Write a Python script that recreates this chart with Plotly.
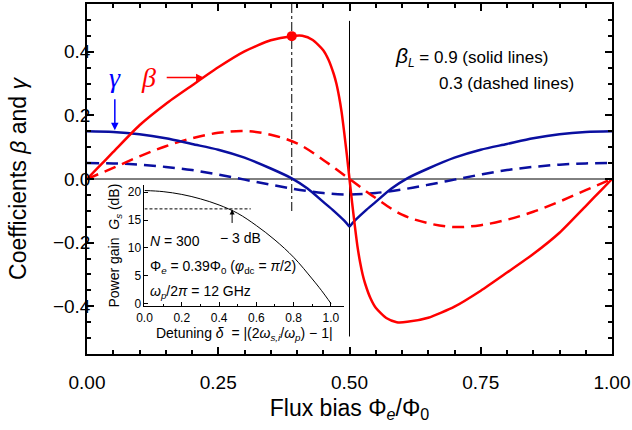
import plotly.graph_objects as go

# ---------------- data ----------------
flux_beta_solid = [0.00, 0.02, 0.05, 0.10, 0.15, 0.20, 0.25, 0.30, 0.35, 0.39, 0.41, 0.43,
                   0.45, 0.46, 0.47, 0.475, 0.48, 0.485, 0.49, 0.495, 0.50,
                   0.505, 0.51, 0.515, 0.52, 0.525, 0.53, 0.54, 0.55, 0.57, 0.59, 0.61,
                   0.65, 0.70, 0.75, 0.80, 0.85, 0.90, 0.95, 0.98, 1.00]
beta_solid = [0.000, 0.034, 0.085, 0.169, 0.236, 0.294, 0.351, 0.401, 0.436, 0.449, 0.450, 0.437,
              0.405, 0.375, 0.330, 0.300, 0.260, 0.210, 0.145, 0.075, 0.000,
              -0.075, -0.145, -0.210, -0.260, -0.300, -0.330, -0.375, -0.405, -0.437, -0.450, -0.449,
              -0.436, -0.401, -0.351, -0.294, -0.236, -0.169, -0.085, -0.034, 0.000]

flux_gamma_solid = [0.00, 0.05, 0.10, 0.15, 0.20, 0.25, 0.30, 0.35, 0.39, 0.42, 0.45, 0.47, 0.49, 0.50,
                    0.51, 0.53, 0.55, 0.58, 0.61, 0.65, 0.70, 0.75, 0.80, 0.85, 0.90, 0.95, 1.00]
gamma_solid = [0.150, 0.148, 0.141, 0.128, 0.110, 0.092, 0.067, 0.033, 0.002, -0.030, -0.072, -0.100, -0.131, -0.150,
               -0.131, -0.100, -0.072, -0.030, 0.002, 0.033, 0.067, 0.092, 0.110, 0.128, 0.141, 0.148, 0.150]

flux_dashed = [0.00, 0.05, 0.10, 0.15, 0.20, 0.25, 0.30, 0.35, 0.40, 0.45, 0.50,
               0.55, 0.60, 0.65, 0.70, 0.75, 0.80, 0.85, 0.90, 0.95, 1.00]
beta_dashed = [0.000, 0.035, 0.071, 0.103, 0.128, 0.145, 0.151, 0.139, 0.112, 0.060, 0.000,
               -0.060, -0.112, -0.139, -0.151, -0.145, -0.128, -0.103, -0.071, -0.035, 0.000]
gamma_dashed = [0.050, 0.049, 0.045, 0.038, 0.028, 0.014, -0.002, -0.018, -0.033, -0.044, -0.049,
                -0.044, -0.033, -0.018, -0.002, 0.014, 0.028, 0.038, 0.045, 0.049, 0.050]

peak_flux = [0.39]
peak_beta = [0.449]

# inset: power gain vs detuning
detuning = [0.0, 0.1, 0.2, 0.3, 0.4, 0.5, 0.6, 0.7, 0.8, 0.9, 0.95, 1.0]
gain_db = [20.3, 20.1, 19.6, 18.8, 17.7, 16.2, 14.0, 11.4, 8.3, 4.4, 2.3, 0.0]
minus3db_detuning = [0.0, 0.57]
minus3db_gain = [17.0, 17.0]

RED = "#FF0000"
NAVY = "#0A0FA0"
BLUE = "#0000FF"
FONT = "Liberation Sans, Arial, sans-serif"

fig = go.Figure()

# reference lines
fig.add_trace(go.Scatter(x=[0, 1], y=[0, 0], mode="lines",
                         line=dict(color="black", width=1), hoverinfo="skip"))
fig.add_trace(go.Scatter(x=[0.5, 0.5], y=[-0.495, 0.497], mode="lines",
                         line=dict(color="black", width=1), hoverinfo="skip"))
fig.add_trace(go.Scatter(x=[0.39, 0.39], y=[0.55, -0.108], mode="lines",
                         line=dict(color="black", width=1, dash="dashdot"), hoverinfo="skip"))

# curves
fig.add_trace(go.Scatter(x=flux_dashed, y=gamma_dashed, mode="lines", line_shape="spline",
                         line=dict(color=NAVY, width=2.5, dash="12px,7px")))
fig.add_trace(go.Scatter(x=flux_dashed, y=beta_dashed, mode="lines", line_shape="spline",
                         line=dict(color=RED, width=2.5, dash="12px,7px")))
# gamma (solid) has a cusp at 0.5: draw each side as a smooth branch
cusp = flux_gamma_solid.index(0.50)
for sl in (slice(0, cusp + 1), slice(cusp, None)):
    fig.add_trace(go.Scatter(x=flux_gamma_solid[sl], y=gamma_solid[sl], mode="lines",
                             line_shape="spline", line=dict(color=NAVY, width=2.5, smoothing=0.8)))
fig.add_trace(go.Scatter(x=flux_beta_solid, y=beta_solid, mode="lines", line_shape="spline",
                         line=dict(color=RED, width=2.5, smoothing=0.6)))
fig.add_trace(go.Scatter(x=peak_flux, y=peak_beta, mode="markers",
                         marker=dict(color=RED, size=10)))

# inset traces
fig.add_trace(go.Scatter(x=detuning, y=gain_db, mode="lines", line_shape="spline",
                         line=dict(color="black", width=1), xaxis="x2", yaxis="y2"))
fig.add_trace(go.Scatter(x=minus3db_detuning, y=minus3db_gain, mode="lines",
                         line=dict(color="black", width=1, dash="3px,2px"), xaxis="x2", yaxis="y2"))

axis_common = dict(showline=True, linecolor="black", linewidth=1.5, mirror="ticks",
                   ticks="inside", tickcolor="black", tickwidth=1.5, ticklen=7,
                   showgrid=False, zeroline=False,
                   tickfont=dict(family=FONT, size=19, color="black"))

fig.update_layout(
    width=632, height=430,
    margin=dict(l=87, r=20, t=2, b=76),
    plot_bgcolor="rgba(0,0,0,0)", paper_bgcolor="white",
    showlegend=False,
    font=dict(family=FONT, color="black"),
    xaxis=dict(range=[0, 1], dtick=0.25, tick0=0, tickformat=".2f",
               ticklabelstandoff=10,
               minor=dict(dtick=0.05, ticks="inside", ticklen=4, tickwidth=1.5, tickcolor="black"),
               title=dict(text="Flux bias Φ<sub><i>e</i></sub>/Φ<sub>0</sub>",
                          font=dict(family=FONT, size=23), standoff=8),
               **axis_common),
    yaxis=dict(range=[-0.55, 0.55], dtick=0.2, tick0=0, tickformat=".1f",
               ticklabelstandoff=-9,
               minor=dict(dtick=0.05, ticks="inside", ticklen=4, tickwidth=1.5, tickcolor="black"),
               title=dict(text="Coefficients <i>β</i> and <i>γ</i>",
                          font=dict(family=FONT, size=23), standoff=20),
               **axis_common),
    xaxis2=dict(domain=[0.1095, 0.4895], anchor="y2", range=[0, 1.07],
                dtick=0.2, tick0=0, tickformat=".1f",
                showline=True, linecolor="black", linewidth=1, ticks="inside", ticklen=4,
                tickwidth=1, tickcolor="black", showgrid=False, zeroline=False,
                minor=dict(dtick=0.1, ticks="inside", ticklen=2.5, tickwidth=1, tickcolor="black"),
                tickfont=dict(family=FONT, size=12),
                title=dict(text="Detuning <i>δ</i>  = |(2<i>ω</i><sub><i>s,i</i></sub>/<i>ω</i><sub><i>p</i></sub>) − 1|",
                           font=dict(family=FONT, size=14), standoff=3)),
    yaxis2=dict(domain=[0.1364, 0.483], anchor="x2", range=[-0.5, 21.3],
                dtick=5, tick0=0, showline=True, linecolor="black", linewidth=1,
                ticks="inside", ticklen=4, tickwidth=1, tickcolor="black",
                showgrid=False, zeroline=False,
                tickfont=dict(family=FONT, size=12),
                title=dict(text="Power gain  <i>G</i><sub><i>s</i></sub> (dB)",
                           font=dict(family=FONT, size=14), standoff=4)),
)

ann = []
# beta_L legend text
ann.append(dict(x=0.583, y=0.384, xref="x", yref="y", xanchor="left", yanchor="middle",
                showarrow=False,
                text="<span style='font-size:21px'><i>β</i></span><sub><i>L</i></sub> = 0.9 (solid lines)",
                font=dict(family=FONT, size=17, color="black")))
ann.append(dict(x=0.667, y=0.300, xref="x", yref="y", xanchor="left", yanchor="middle",
                showarrow=False, text="0.3 (dashed lines)",
                font=dict(family=FONT, size=17, color="black")))
# gamma label + arrow
ann.append(dict(x=0.053, y=0.318, xref="x", yref="y", showarrow=False, text="<i>γ</i>",
                font=dict(family="Liberation Serif, serif", size=28, color=BLUE)))
ann.append(dict(x=0.053, y=0.153, ax=0.053, ay=0.255, xref="x", yref="y", axref="x", ayref="y",
                text="", showarrow=True, arrowhead=2, arrowsize=1, arrowwidth=1.5, arrowcolor=BLUE))
# beta label + arrow
ann.append(dict(x=0.118, y=0.318, xref="x", yref="y", showarrow=False, text="<i>β</i>",
                font=dict(family="Liberation Serif, serif", size=28, color=RED)))
ann.append(dict(x=0.222, y=0.319, ax=0.149, ay=0.319, xref="x", yref="y", axref="x", ayref="y",
                text="", showarrow=True, arrowhead=2, arrowsize=1, arrowwidth=1.5, arrowcolor=RED))
# inset texts
ann.append(dict(x=0.47, y=16.9, ax=0.47, ay=14.2, xref="x2", yref="y2", axref="x2", ayref="y2",
                text="", showarrow=True, arrowhead=2, arrowsize=1, arrowwidth=1, arrowcolor="black"))
ann.append(dict(x=0.517, y=11.8, xref="x2", yref="y2", showarrow=False, text="− 3 dB",
                font=dict(family=FONT, size=14, color="black")))
ann.append(dict(x=0.02, y=11.3, xref="x2", yref="y2", xanchor="left", showarrow=False,
                text="<i>N</i> = 300", font=dict(family=FONT, size=14, color="black")))
ann.append(dict(x=0.02, y=6.5, xref="x2", yref="y2", xanchor="left", showarrow=False,
                text="Φ<sub><i>e</i></sub> = 0.39Φ<sub>0</sub> (<i>φ</i><sub>dc</sub> = <i>π</i>/2)",
                font=dict(family=FONT, size=14, color="black")))
ann.append(dict(x=0.02, y=2.0, xref="x2", yref="y2", xanchor="left", showarrow=False,
                text="<i>ω</i><sub><i>p</i></sub>/2<i>π</i> = 12 GHz",
                font=dict(family=FONT, size=14, color="black")))
fig.update_layout(annotations=ann)

fig.write_html("out.html", config={"displayModeBar": False},
               post_script="document.body.style.margin='0';document.body.style.padding='0';")
